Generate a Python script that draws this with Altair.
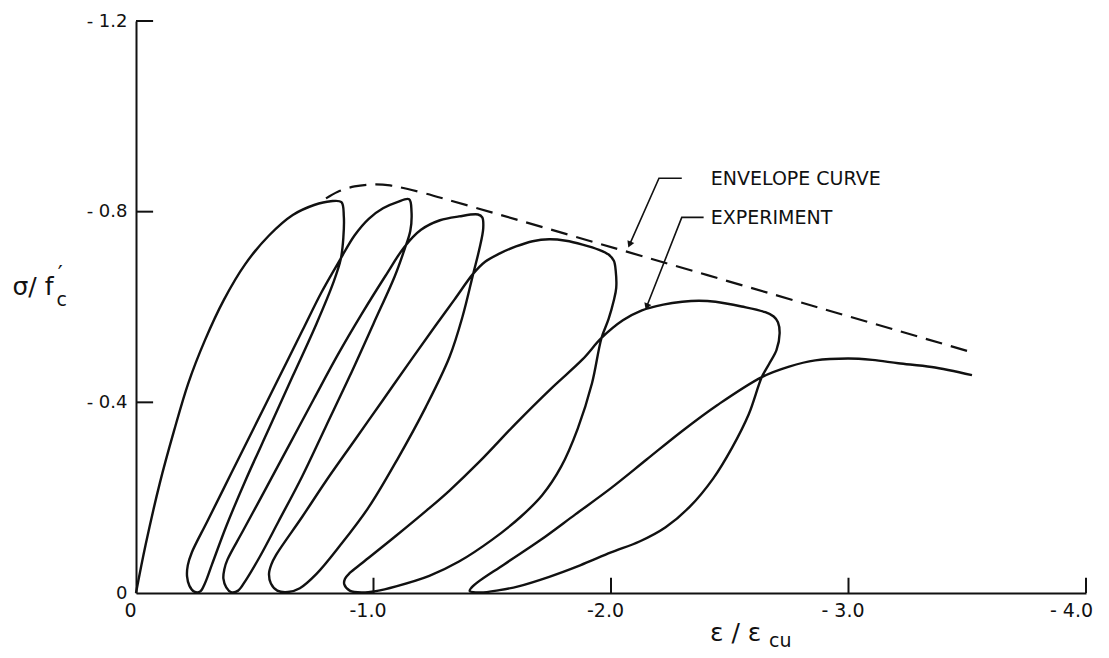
import altair as alt
import pandas as pd

# ---------------- data ----------------
# initial loading from the origin
load_x = [0, -0.04, -0.10, -0.16, -0.22, -0.29, -0.37, -0.46, -0.56, -0.66, -0.75, -0.82, -0.865]
load_y = [0, -0.10, -0.23, -0.34, -0.44, -0.53, -0.615, -0.69, -0.75, -0.793, -0.814, -0.822, -0.82]
# cycle 1
unload1_x = [-0.875, -0.873, -0.862, -0.83, -0.76, -0.66, -0.56, -0.46, -0.38, -0.32, -0.29, -0.27, -0.245, -0.225, -0.215, -0.218]
unload1_y = [-0.79, -0.745, -0.70, -0.65, -0.565, -0.455, -0.345, -0.235, -0.14, -0.06, -0.02, -0.003, -0.003, -0.015, -0.035, -0.058]
reload1_x = [-0.235, -0.30, -0.40, -0.50, -0.60, -0.70, -0.78, -0.86, -0.92, -0.98, -1.04, -1.10, -1.15]
reload1_y = [-0.085, -0.15, -0.25, -0.35, -0.45, -0.55, -0.63, -0.70, -0.75, -0.785, -0.807, -0.82, -0.826]
# cycle 2
unload2_x = [-1.16, -1.155, -1.13, -1.09, -1.00, -0.90, -0.80, -0.70, -0.60, -0.52, -0.46, -0.43, -0.40, -0.38, -0.368, -0.372]
unload2_y = [-0.80, -0.76, -0.72, -0.665, -0.565, -0.455, -0.35, -0.245, -0.15, -0.075, -0.025, -0.005, -0.002, -0.012, -0.03, -0.05]
reload2_x = [-0.385, -0.45, -0.55, -0.65, -0.75, -0.85, -0.95, -1.05, -1.13, -1.20, -1.28, -1.36, -1.44]
reload2_y = [-0.07, -0.13, -0.222, -0.315, -0.408, -0.50, -0.585, -0.665, -0.726, -0.762, -0.782, -0.79, -0.794]
# cycle 3
unload3_x = [-1.458, -1.462, -1.445, -1.42, -1.375, -1.32, -1.22, -1.10, -0.98, -0.86, -0.76, -0.69, -0.64, -0.595, -0.568, -0.56, -0.57]
unload3_y = [-0.788, -0.765, -0.72, -0.67, -0.58, -0.495, -0.39, -0.28, -0.18, -0.10, -0.04, -0.01, -0.002, -0.005, -0.02, -0.04, -0.06]
reload3_x = [-0.59, -0.70, -0.80, -0.92, -1.04, -1.16, -1.26, -1.34, -1.42, -1.47, -1.53, -1.60, -1.67, -1.74, -1.81, -1.88, -1.95, -1.99, -2.012, -2.02]
reload3_y = [-0.08, -0.16, -0.235, -0.32, -0.405, -0.49, -0.56, -0.615, -0.67, -0.695, -0.712, -0.727, -0.738, -0.742, -0.739, -0.731, -0.72, -0.71, -0.697, -0.675]
# cycle 4
unload4_x = [-2.022, -2.012, -1.99, -1.96, -1.92, -1.86, -1.79, -1.71, -1.62, -1.50, -1.36, -1.235, -1.095, -1.01, -0.95, -0.90, -0.877, -0.88]
unload4_y = [-0.64, -0.614, -0.575, -0.535, -0.44, -0.345, -0.265, -0.205, -0.16, -0.112, -0.066, -0.036, -0.014, -0.004, -0.001, -0.005, -0.018, -0.03]
reload4_x = [-0.90, -0.955, -1.095, -1.235, -1.32, -1.445, -1.60, -1.75, -1.88, -1.96, -2.05, -2.13, -2.22, -2.30, -2.37, -2.44, -2.55, -2.65, -2.685, -2.703, -2.71]
reload4_y = [-0.042, -0.064, -0.12, -0.178, -0.215, -0.275, -0.356, -0.43, -0.49, -0.535, -0.572, -0.593, -0.605, -0.611, -0.613, -0.611, -0.601, -0.589, -0.58, -0.568, -0.545]
# cycle 5
unload5_x = [-2.697, -2.665, -2.635, -2.58, -2.51, -2.43, -2.33, -2.23, -2.12, -2.00, -1.87, -1.74, -1.61, -1.53, -1.45, -1.405]
unload5_y = [-0.51, -0.48, -0.453, -0.375, -0.305, -0.24, -0.18, -0.138, -0.108, -0.085, -0.058, -0.034, -0.014, -0.006, -0.001, -0.004]
reload5_x = [-1.42, -1.55, -1.70, -1.85, -2.00, -2.15, -2.30, -2.45, -2.635, -2.75, -2.86, -3.0, -3.10, -3.21, -3.35, -3.52]
reload5_y = [-0.015, -0.06, -0.11, -0.165, -0.22, -0.28, -0.34, -0.395, -0.453, -0.475, -0.488, -0.492, -0.489, -0.482, -0.474, -0.457]

# envelope curve (dashed)
env_x = [-0.80, -0.85, -0.92, -1.00, -1.07, -1.14, -1.22, -1.32, -3.52]
env_y = [-0.828, -0.842, -0.853, -0.857, -0.855, -0.848, -0.838, -0.824, -0.505]

# annotation leaders (label side -> arrow tip)
lead_env_x = [-2.298, -2.202, -2.08]
lead_env_y = [-0.870, -0.870, -0.733]
lead_exp_x = [-2.39, -2.298, -2.152]
lead_exp_y = [-0.788, -0.788, -0.603]
labels = ["ENVELOPE CURVE", "EXPERIMENT"]
label_x = [-2.42, -2.42]
label_y = [-0.868, -0.786]

# axes
x_ticks = [0, -1, -2, -3, -4]
x_tick_text = ["0", "-1.0", "-2.0", "- 3.0", "- 4.0"]
y_ticks = [0, -0.4, -0.8, -1.2]
y_tick_text = ["0", "- 0.4", "- 0.8", "- 1.2"]

FONT = "DejaVu Sans"
INK = "#111111"

# ---------------- tables ----------------
segments = [(load_x, load_y), (unload1_x, unload1_y), (reload1_x, reload1_y),
            (unload2_x, unload2_y), (reload2_x, reload2_y),
            (unload3_x, unload3_y), (reload3_x, reload3_y),
            (unload4_x, unload4_y), (reload4_x, reload4_y),
            (unload5_x, unload5_y), (reload5_x, reload5_y)]
rows = []
for xs_, ys_ in segments:
    for x, y in zip(xs_, ys_):
        rows.append({"strain": x, "stress": y, "i": len(rows)})
exp_df = pd.DataFrame(rows)
env_df = pd.DataFrame({"strain": env_x, "stress": env_y, "i": range(len(env_x))})
lead_df = pd.DataFrame({
    "strain": lead_env_x + lead_exp_x,
    "stress": lead_env_y + lead_exp_y,
    "g": ["env"] * 3 + ["exp"] * 3,
    "i": list(range(3)) + list(range(3)),
})
arrow_df = pd.DataFrame({"strain": [lead_env_x[-1], lead_exp_x[-1]],
                         "stress": [lead_env_y[-1], lead_exp_y[-1]],
                         "ang": [203.5, 201.0]})
label_df = pd.DataFrame({"strain": label_x, "stress": label_y, "t": labels})

tick_len_x = 0.072   # inward tick length on the y axis (in strain units)
tick_len_y = 0.032   # inward tick length on the x axis (in stress units)
ytick_df = pd.DataFrame({"a": [0] * 3, "b": [-tick_len_x] * 3, "stress": y_ticks[1:]})
xtick_df = pd.DataFrame({"strain": x_ticks[1:], "a": [0] * 4, "b": [-tick_len_y] * 4})


def label_expr(vals, texts):
    expr = "''"
    for v, t in reversed(list(zip(vals, texts))):
        expr = f"abs(datum.value - ({v})) < 1e-6 ? '{t}' : ({expr})"
    return expr


xs = alt.Scale(domain=[0, -4], nice=False, zero=False)
ys = alt.Scale(domain=[0, -1.2], nice=False, zero=False)

x_axis = alt.Axis(values=x_ticks, labelExpr=label_expr(x_ticks, x_tick_text), ticks=False, tickSize=0,
                  grid=False, domainColor=INK, domainWidth=2, labelFont=FONT, labelFontSize=19,
                  labelColor=INK, labelPadding=8,
                  labelOffset={"condition": {"test": "datum.value < -3.5", "value": -15}, "value": -6},
                  labelFlush=False, labelOverlap=False, title=None)
y_axis = alt.Axis(values=y_ticks, labelExpr=label_expr(y_ticks, y_tick_text), ticks=False, tickSize=0,
                  grid=False, domainColor=INK, domainWidth=2, labelFont=FONT, labelFontSize=18,
                  labelColor=INK, labelPadding=9, labelFlush=False, labelOverlap=False, title=None)

experiment = alt.Chart(exp_df).mark_line(color=INK, strokeWidth=2.4, interpolate="catmull-rom").encode(
    x=alt.X("strain:Q", scale=xs, axis=x_axis),
    y=alt.Y("stress:Q", scale=ys, axis=y_axis),
    order="i:Q",
)

envelope = alt.Chart(env_df).mark_line(color=INK, strokeWidth=2.2, strokeDash=[17, 9],
                                       interpolate="catmull-rom").encode(
    x=alt.X("strain:Q", scale=xs), y=alt.Y("stress:Q", scale=ys), order="i:Q")

leaders = alt.Chart(lead_df).mark_line(color=INK, strokeWidth=1.6).encode(
    x=alt.X("strain:Q", scale=xs), y=alt.Y("stress:Q", scale=ys), detail="g:N", order="i:Q")

arrows = alt.Chart(arrow_df).mark_point(shape="triangle", filled=True, size=55, color=INK, opacity=1).encode(
    x=alt.X("strain:Q", scale=xs), y=alt.Y("stress:Q", scale=ys), angle=alt.Angle("ang:Q", scale=None))

label_marks = alt.Chart(label_df).mark_text(align="left", baseline="middle", font=FONT, fontSize=19,
                                            color=INK).encode(
    x=alt.X("strain:Q", scale=xs), y=alt.Y("stress:Q", scale=ys), text="t:N")

yticks = alt.Chart(ytick_df).mark_rule(color=INK, strokeWidth=2).encode(
    x=alt.X("a:Q", scale=xs), x2="b:Q", y=alt.Y("stress:Q", scale=ys))
xticks = alt.Chart(xtick_df).mark_rule(color=INK, strokeWidth=2).encode(
    x=alt.X("strain:Q", scale=xs), y=alt.Y("a:Q", scale=ys), y2="b:Q")

# axis titles (sub/superscripts as separate text pieces)
title_main = pd.DataFrame({"strain": [-2.417, 0.52], "stress": [0.100, -0.625], "t": ["ε / ε", "σ/ f"]})
title_sub = pd.DataFrame({"strain": [-2.665, 0.335], "stress": [0.113, -0.603], "t": ["cu", "c"]})
title_sup = pd.DataFrame({"strain": [0.33], "stress": [-0.655], "t": ["′"]})

t_main = alt.Chart(title_main).mark_text(align="left", baseline="alphabetic", font=FONT, fontSize=25,
                                         color=INK).encode(
    x=alt.X("strain:Q", scale=xs), y=alt.Y("stress:Q", scale=ys), text="t:N")
t_sub = alt.Chart(title_sub).mark_text(align="left", baseline="alphabetic", font=FONT, fontSize=19,
                                       color=INK).encode(
    x=alt.X("strain:Q", scale=xs), y=alt.Y("stress:Q", scale=ys), text="t:N")
t_sup = alt.Chart(title_sup).mark_text(align="left", baseline="alphabetic", font=FONT, fontSize=22,
                                       color=INK).encode(
    x=alt.X("strain:Q", scale=xs), y=alt.Y("stress:Q", scale=ys), text="t:N")

chart = alt.layer(experiment, envelope, leaders, arrows, label_marks, yticks, xticks,
                  t_main, t_sub, t_sup).properties(
    width=950, height=572,
    autosize=alt.AutoSizeParams(type="none"),
    padding={"left": 128, "top": 13, "right": 15, "bottom": 57},
    background="white",
).configure_view(strokeWidth=0)

chart.save("out.html", embed_options={"renderer": "svg", "actions": False})
